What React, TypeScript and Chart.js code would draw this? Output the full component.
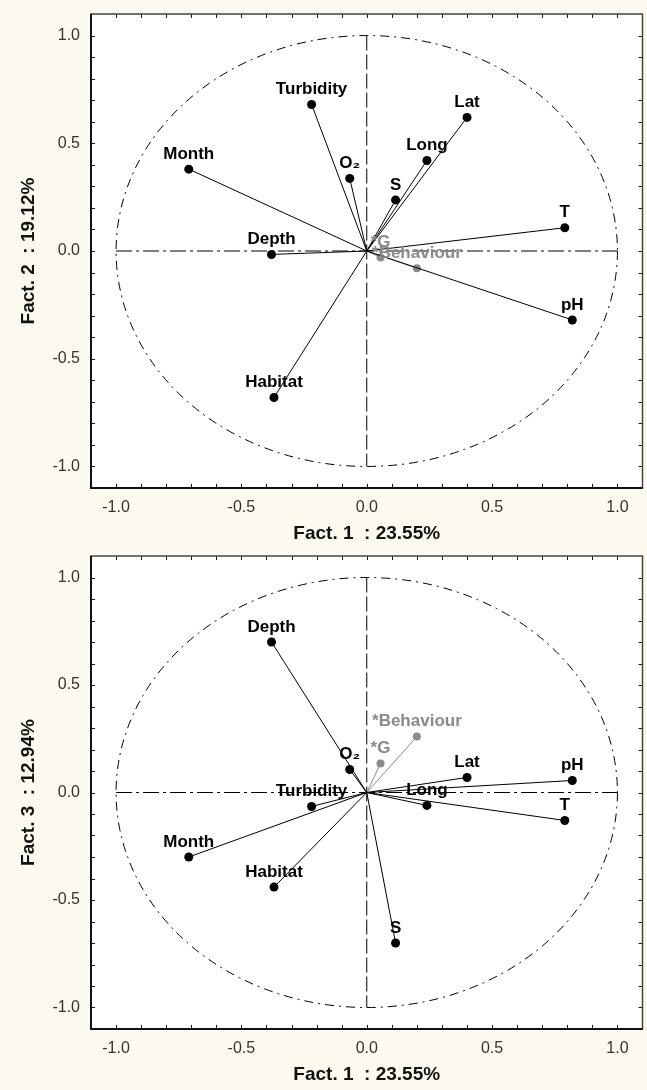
import React, { useEffect, useRef } from 'react';
import { Chart, registerables } from 'chart.js';

Chart.register(...registerables);

// ---- Data ----
const variableLabels = ['Month', 'Turbidity', 'O₂', 'S', 'Long', 'Lat', 'T', 'pH', 'Depth', 'Habitat'];
const fact1Loadings = [-0.71, -0.22, -0.068, 0.115, 0.24, 0.40, 0.79, 0.82, -0.38, -0.37];
const fact2Loadings = [0.38, 0.68, 0.337, 0.237, 0.42, 0.62, 0.108, -0.32, -0.016, -0.68];
const fact3Loadings = [-0.30, -0.065, 0.107, -0.70, -0.06, 0.07, -0.13, 0.056, 0.70, -0.44];

const supplementaryLabels = ['*G', '*Behaviour'];
const supFact1Loadings = [0.055, 0.2];
const supFact2Loadings = [-0.03, -0.08];
const supFact3Loadings = [0.135, 0.26];

const tickValues = [-1.0, -0.5, 0.0, 0.5, 1.0];
const tickLabels = ['-1.0', '-0.5', '0.0', '0.5', '1.0'];

const xAxisTitle = 'Fact. 1  : 23.55%';
const yAxisTitleTop = 'Fact. 2  : 19.12%';
const yAxisTitleBottom = 'Fact. 3  : 12.94%';

const PAGE_BG = '#FCF9EF';
const FONT = '"Liberation Sans", Arial, Helvetica, sans-serif';

const tickCallback = (value: number) => {
  for (let i = 0; i < tickValues.length; i++) {
    if (Math.abs(value - tickValues[i]) < 1e-6) return tickLabels[i];
  }
  return '';
};

const decorPlugin = {
  id: 'pcaDecor',
  beforeDraw(chart: any) {
    const { ctx, chartArea } = chart;
    ctx.save();
    ctx.fillStyle = '#ffffff';
    ctx.fillRect(chartArea.left, chartArea.top, chartArea.right - chartArea.left, chartArea.bottom - chartArea.top);
    ctx.restore();
  },
  beforeDatasetsDraw(chart: any) {
    const { ctx } = chart;
    const xs = chart.scales.x;
    const ys = chart.scales.y;
    const cx = xs.getPixelForValue(0);
    const cy = ys.getPixelForValue(0);
    const rx = xs.getPixelForValue(1) - cx;
    const ry = cy - ys.getPixelForValue(1);
    ctx.save();
    ctx.strokeStyle = '#000';
    ctx.lineWidth = 1;
    // unit circle
    ctx.setLineDash([9, 5, 2, 5]);
    ctx.beginPath();
    ctx.ellipse(cx, cy, rx, ry, 0, 0, Math.PI * 2);
    ctx.stroke();
    // vertical axis line
    ctx.setLineDash([15, 4]);
    ctx.beginPath();
    ctx.moveTo(cx, ys.getPixelForValue(1));
    ctx.lineTo(cx, ys.getPixelForValue(-1));
    ctx.stroke();
    // horizontal axis line
    ctx.setLineDash([16, 4, 3, 4]);
    ctx.beginPath();
    ctx.moveTo(xs.getPixelForValue(-1), cy);
    ctx.lineTo(xs.getPixelForValue(1), cy);
    ctx.stroke();
    ctx.restore();
  },
  afterDatasetsDraw(chart: any) {
    const { ctx, chartArea } = chart;
    ctx.save();
    chart.data.datasets.forEach((ds: any, i: number) => {
      const meta = chart.getDatasetMeta(i);
      const pt = meta.data[1];
      if (!pt) return;
      ctx.font = `bold 17px ${FONT}`;
      ctx.fillStyle = ds.labelColor;
      ctx.textAlign = 'center';
      ctx.textBaseline = 'middle';
      ctx.fillText(ds.label, pt.x, pt.y - 15);
    });
    // frame with inward ticks
    const xs = chart.scales.x;
    const ys = chart.scales.y;
    ctx.strokeStyle = '#1a1a1a';
    ctx.lineWidth = 1;
    ctx.setLineDash([]);
    for (let k = -10; k <= 10; k++) {
      const v = k / 10;
      const px = Math.round(xs.getPixelForValue(v)) + 0.5;
      const py = Math.round(ys.getPixelForValue(v)) + 0.5;
      ctx.beginPath();
      ctx.moveTo(px, chartArea.bottom);
      ctx.lineTo(px, chartArea.bottom - 4);
      ctx.moveTo(px, chartArea.top);
      ctx.lineTo(px, chartArea.top + 4);
      ctx.moveTo(chartArea.left, py);
      ctx.lineTo(chartArea.left + 4, py);
      ctx.moveTo(chartArea.right, py);
      ctx.lineTo(chartArea.right - 4, py);
      ctx.stroke();
    }
    const w = chartArea.right - chartArea.left;
    const h = chartArea.bottom - chartArea.top;
    ctx.lineWidth = 1.5;
    ctx.strokeStyle = '#444';
    ctx.strokeRect(chartArea.left, chartArea.top, w, h);
    ctx.lineWidth = 2;
    ctx.strokeStyle = '#111';
    ctx.beginPath();
    ctx.moveTo(chartArea.left, chartArea.top);
    ctx.lineTo(chartArea.left, chartArea.bottom);
    ctx.lineTo(chartArea.right, chartArea.bottom);
    ctx.stroke();
    ctx.restore();
  },
};

type PanelProps = {
  xVals: number[];
  yVals: number[];
  supX: number[];
  supY: number[];
  yTitle: string;
  top: number;
  padTop: number;
  xAxisHeight: number;
  titlePadBottom: number;
};

function Panel(props: PanelProps) {
  const ref = useRef<HTMLCanvasElement | null>(null);
  useEffect(() => {
    if (!ref.current) return;
    const mk = (lab: string, x: number, y: number, color: string, r: number) => ({
      label: lab,
      labelColor: color,
      data: [{ x: 0, y: 0 }, { x, y }],
      showLine: true,
      borderColor: color,
      borderWidth: 1,
      pointRadius: [0, r],
      pointHoverRadius: [0, r],
      pointBackgroundColor: color,
      pointBorderColor: color,
      pointBorderWidth: 0,
      fill: false,
    });
    const datasets = [
      ...variableLabels.map((lab, i) => mk(lab, props.xVals[i], props.yVals[i], '#000000', 4.5)),
      ...supplementaryLabels.map((lab, i) => mk(lab, props.supX[i], props.supY[i], '#8a8a8a', 4)),
    ];
    const chart = new Chart(ref.current, {
      type: 'scatter',
      data: { datasets } as any,
      plugins: [decorPlugin],
      options: {
        animation: false,
        responsive: false,
        events: [],
        layout: { padding: { left: 0, right: 4, top: props.padTop, bottom: 0 } },
        plugins: { legend: { display: false }, tooltip: { enabled: false } },
        scales: {
          x: {
            type: 'linear',
            min: -1.1,
            max: 1.1,
            grid: { display: false, drawTicks: false },
            border: { display: false },
            ticks: {
              stepSize: 0.1,
              autoSkip: false,
              maxRotation: 0,
              padding: 10,
              color: '#333',
              font: { family: FONT, size: 16 },
              callback: (v: any) => tickCallback(Number(v)),
            },
            title: {
              display: true,
              text: xAxisTitle,
              color: '#111',
              font: { family: FONT, size: 19, weight: 'bold' },
              padding: { top: 0, bottom: props.titlePadBottom },
            },
            afterFit: (s: any) => {
              s.height = props.xAxisHeight;
              s.paddingLeft = 0;
              s.paddingRight = 0;
            },
          },
          y: {
            type: 'linear',
            min: -1.1,
            max: 1.1,
            grid: { display: false, drawTicks: false },
            border: { display: false },
            ticks: {
              stepSize: 0.1,
              autoSkip: false,
              padding: 11,
              color: '#333',
              font: { family: FONT, size: 16 },
              callback: (v: any) => tickCallback(Number(v)),
            },
            title: {
              display: true,
              text: props.yTitle,
              color: '#111',
              font: { family: FONT, size: 19, weight: 'bold' },
              padding: { top: 17, bottom: 0 },
            },
            afterFit: (s: any) => {
              s.width = 91;
              s.paddingTop = 0;
              s.paddingBottom = 0;
            },
          },
        },
      } as any,
    });
    return () => chart.destroy();
  }, []);
  return (
    <canvas
      ref={ref}
      width={647}
      height={545}
      style={{ position: 'absolute', left: 0, top: props.top, width: 647, height: 545 }}
    />
  );
}

export default function App() {
  return (
    <div style={{ position: 'fixed', left: 0, top: 0, width: 647, height: 1090, background: PAGE_BG, overflow: 'hidden' }}>
      <Panel
        xVals={fact1Loadings}
        yVals={fact2Loadings}
        supX={supFact1Loadings}
        supY={supFact2Loadings}
        yTitle={yAxisTitleTop}
        top={0}
        padTop={14}
        xAxisHeight={57}
        titlePadBottom={0}
      />
      <Panel
        xVals={fact1Loadings}
        yVals={fact3Loadings}
        supX={supFact1Loadings}
        supY={supFact3Loadings}
        yTitle={yAxisTitleBottom}
        top={545}
        padTop={11}
        xAxisHeight={61}
        titlePadBottom={4}
      />
    </div>
  );
}
